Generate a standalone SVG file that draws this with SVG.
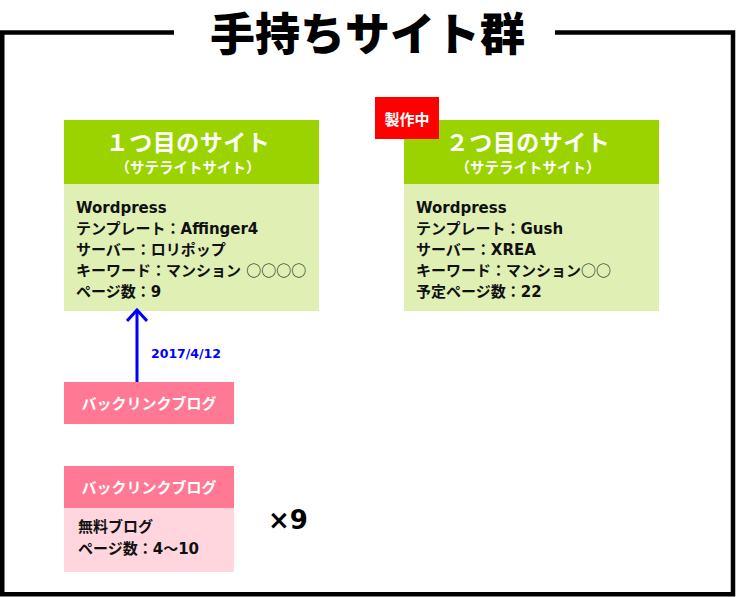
<svg xmlns="http://www.w3.org/2000/svg" width="737" height="597" viewBox="0 0 737 597">
<defs>
<style>
.t{font-family:"DejaVu Sans","Noto Sans CJK JP",sans-serif;}
.j{font-family:"Noto Sans CJK JP","DejaVu Sans",sans-serif;}
.c{font-family:"Noto Sans CJK JP",sans-serif;font-weight:normal;}
.hd{fill:#9bd300;}
.bd{fill:#e0f0b5;}
.pk{fill:#ff7894;}
.lp{fill:#ffd5de;}
.w{fill:#ffffff;font-weight:bold;}
.b{fill:#111111;font-weight:bold;font-size:15px;}
</style>
<marker id="ah" viewBox="0 0 14 22" refX="12" refY="11" markerWidth="14" markerHeight="22" markerUnits="userSpaceOnUse" orient="auto">
<path d="M1 1 L12 11 L1 21" fill="none" stroke="#0000ff" stroke-width="3"/>
</marker>
</defs>
<rect width="737" height="597" fill="#ffffff"/>
<g id="frame">
<path d="M174 32.5 H2.25 V594.2 H733 V32.5 H555" fill="none" stroke="#000000" stroke-width="4.5"/>
<text class="j" x="367.5" y="51" text-anchor="middle" font-size="45" font-weight="900" fill="#000000">手持ちサイト群</text>
</g>
<g id="site1">
<rect class="hd" x="64" y="120" width="255" height="64"/>
<rect class="bd" x="64" y="184" width="255" height="127"/>
<text class="j w" x="188" y="151" text-anchor="middle" font-size="23" letter-spacing="0.5">１つ目のサイト</text>
<text class="j w" x="188" y="173" text-anchor="middle" font-size="14.5">（サテライトサイト）</text>
<text class="t b" x="76" y="213">Wordpress</text>
<text class="t b" x="76" y="234">テンプレート：Affinger4</text>
<text class="t b" x="76" y="255">サーバー：ロリポップ</text>
<text class="t b" x="76" y="276">キーワード：マンション <tspan class="c">○○○○</tspan></text>
<text class="t b" x="76" y="297">ページ数：9</text>
</g>
<g id="site2">
<rect class="hd" x="404" y="120" width="255" height="64"/>
<rect class="bd" x="404" y="184" width="255" height="127"/>
<text class="j w" x="528" y="151" text-anchor="middle" font-size="23" letter-spacing="0.5">２つ目のサイト</text>
<text class="j w" x="528" y="173" text-anchor="middle" font-size="14.5">（サテライトサイト）</text>
<text class="t b" x="416" y="213">Wordpress</text>
<text class="t b" x="416" y="234">テンプレート：Gush</text>
<text class="t b" x="416" y="255">サーバー：XREA</text>
<text class="t b" x="416" y="276">キーワード：マンション<tspan class="c">○○</tspan></text>
<text class="t b" x="416" y="297">予定ページ数：22</text>
</g>
<g id="badge">
<rect x="375" y="97" width="64" height="42" fill="#ff0000"/>
<text class="j w" x="407" y="125" text-anchor="middle" font-size="15">製作中</text>
</g>
<g id="backlink1">
<rect class="pk" x="64" y="382" width="170" height="42"/>
<text class="j w" x="149" y="409" text-anchor="middle" font-size="15">バックリンクブログ</text>
</g>
<g id="backlink2">
<rect class="pk" x="64" y="466" width="170" height="42"/>
<rect class="lp" x="64" y="508" width="170" height="64"/>
<text class="j w" x="149" y="493" text-anchor="middle" font-size="15">バックリンクブログ</text>
<text class="t" x="78" y="532" font-size="15" font-weight="bold" fill="#111111">無料ブログ</text>
<text class="t" x="78" y="554" font-size="15" font-weight="bold" fill="#111111">ページ数：4〜10</text>
</g>
<g id="times9">
<text x="268" y="529" font-family="DejaVu Sans, sans-serif" font-size="26" font-weight="bold" fill="#000000">×9</text>
</g>
<g id="connectors">
<line x1="137" y1="382" x2="137" y2="310" stroke="#0000ff" stroke-width="3" marker-end="url(#ah)"/>
<text x="151" y="358" font-family="DejaVu Sans, sans-serif" font-size="12.5" font-weight="bold" fill="#0000ff">2017/4/12</text>
</g>
</svg>
